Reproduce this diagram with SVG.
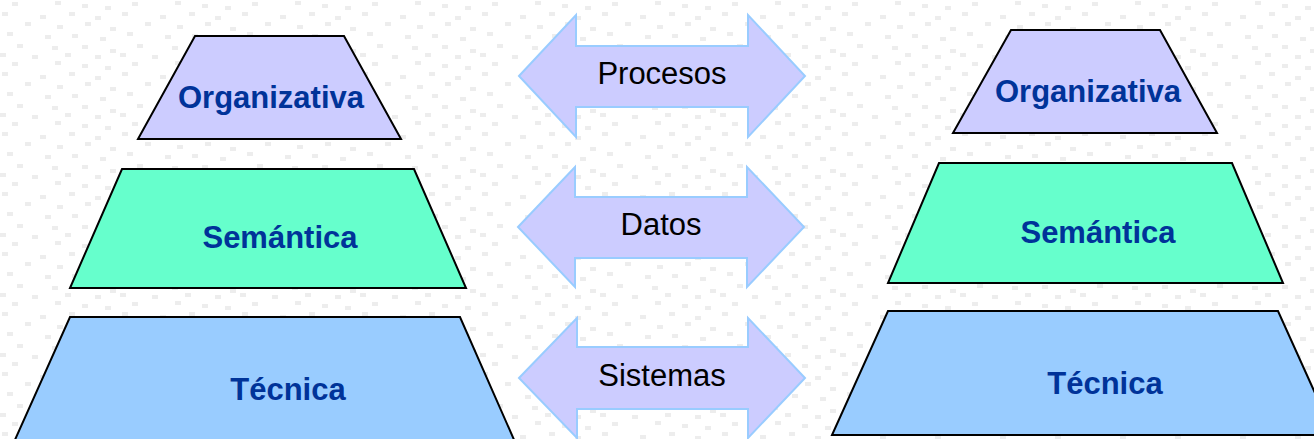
<svg xmlns="http://www.w3.org/2000/svg" width="1314" height="439" viewBox="0 0 1314 439">
<defs>
<pattern id="bg" x="0" y="0" width="120" height="60" patternUnits="userSpaceOnUse">
<g fill="#ededed">
<rect x="12" y="2" width="6" height="4"/><rect x="55" y="1" width="6" height="4"/><rect x="82" y="4" width="6" height="4"/><rect x="105" y="6" width="6" height="4"/>
<rect x="2" y="12" width="6" height="4"/><rect x="40" y="15" width="6" height="4"/><rect x="69" y="12" width="6" height="4"/><rect x="95" y="16" width="6" height="4"/>
<rect x="25" y="22" width="6" height="4"/><rect x="57" y="25" width="6" height="4"/><rect x="85" y="22" width="6" height="4"/><rect x="110" y="27" width="6" height="4"/>
<rect x="7" y="32" width="6" height="4"/><rect x="45" y="35" width="6" height="4"/><rect x="72" y="34" width="6" height="4"/><rect x="100" y="37" width="6" height="4"/>
<rect x="17" y="44" width="6" height="4"/><rect x="52" y="46" width="6" height="4"/><rect x="82" y="45" width="6" height="4"/><rect x="110" y="49" width="6" height="4"/>
<rect x="0" y="53" width="6" height="4"/><rect x="32" y="55" width="6" height="4"/><rect x="65" y="53" width="6" height="4"/><rect x="95" y="55" width="6" height="4"/>
</g>
</pattern>
</defs>
<style>
.trap{stroke:#000;stroke-width:2;stroke-linejoin:miter}
.org{fill:#ccccff}
.sem{fill:#66ffcc}
.tec{fill:#99ccff}
.lbl{font-family:"Liberation Sans",Arial,sans-serif;font-weight:bold;font-size:31px;fill:#003399;text-anchor:middle}
.arrow{fill:#ccccff;stroke:#99ccff;stroke-width:2}
.alb{font-family:"Liberation Sans",Arial,sans-serif;font-size:31px;fill:#000;text-anchor:middle}
</style>
<rect width="1314" height="439" fill="#ffffff"/>
<rect width="1314" height="439" fill="url(#bg)"/>

<g id="left-organizativa">
<polygon class="trap org" points="195,36 344,36 401,139 138,139"/>
<text class="lbl" x="271" y="108">Organizativa</text>
</g>
<g id="left-semantica">
<polygon class="trap sem" points="122,169 414,169 466,288 70,288"/>
<text class="lbl" x="280" y="248">Semántica</text>
</g>
<g id="left-tecnica">
<polygon class="trap tec" points="70,317 460,317 515,442 14,442"/>
<text class="lbl" x="288" y="400">Técnica</text>
</g>

<g id="right-organizativa">
<polygon class="trap org" points="1011,30 1160,30 1217,133 953,133"/>
<text class="lbl" x="1088" y="102">Organizativa</text>
</g>
<g id="right-semantica">
<polygon class="trap sem" points="939,163 1232,163 1283,283 888,283"/>
<text class="lbl" x="1098" y="243">Semántica</text>
</g>
<g id="right-tecnica">
<polygon class="trap tec" points="888,311 1278,311 1334,435 832,435"/>
<text class="lbl" x="1105" y="394">Técnica</text>
</g>

<g id="connectors">
<g id="arrow-procesos">
<polygon class="arrow" points="519,76 576,15 576,46 748,46 748,15 805,76 748,137 748,107 576,107 576,137"/>
<text class="alb" x="662" y="84">Procesos</text>
</g>
<g id="arrow-datos">
<polygon class="arrow" points="518,227 575,167 575,197 747,197 747,167 804,227 747,287 747,258 575,258 575,287"/>
<text class="alb" x="661" y="235">Datos</text>
</g>
<g id="arrow-sistemas">
<polygon class="arrow" points="519,378 577,318 577,347 748,347 748,318 805,378 748,438 748,409 577,409 577,438"/>
<text class="alb" x="662" y="386">Sistemas</text>
</g>
</g>
</svg>
